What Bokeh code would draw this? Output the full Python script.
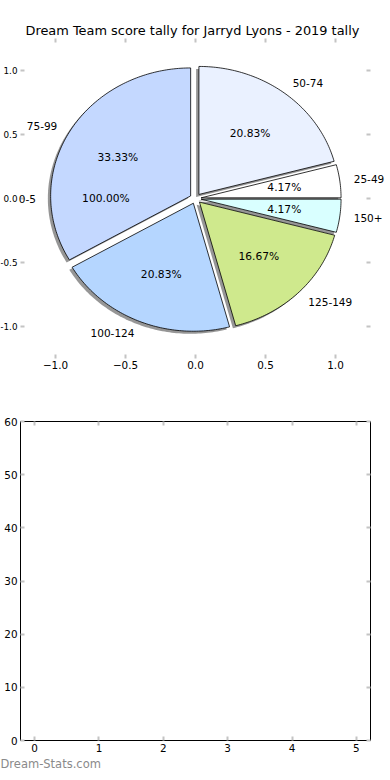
import numpy as np
from bokeh.plotting import figure
from bokeh.models import (ColumnDataSource, LabelSet, Range1d, FixedTicker,
                          LinearAxis, CustomJSTickFormatter, Title)
from bokeh.core.properties import value
from bokeh.layouts import column
from bokeh.embed import file_html
from bokeh.resources import INLINE

# ---------------- data ----------------
title_text = "Dream Team score tally for Jarryd Lyons - 2019 tally"
slice_labels = ["50-74", "25-49", "150+", "125-149", "100-124", "75-99"]
slice_counts = [5, 1, 1, 4, 5, 8]
slice_colors = ["#eaf1ff", "#ffffff", "#d9ffff", "#cfe98d", "#b5d6ff", "#c4d8ff"]
extra_labels = ["0-5"]
extra_counts = [1]
pie_ticks = [-1.0, -0.5, 0.0, 0.5, 1.0]
bar_xticks = [0, 1, 2, 3, 4, 5]
bar_yticks = [0, 10, 20, 30, 40, 50, 60]
watermark = "Dream-Stats.com"

# ---------------- style ----------------
FONT = "DejaVu Sans"
EXPLODE = 0.04
RADIUS = 1.0
SHADOW = (-0.02, -0.02)
TICK_COLOR = "#c4c4c4"
PX_X = 140.0      # pixels per unit (pie, horizontal)
AX_LIM = 1.25     # matplotlib-style axes limits of the pie panel
W = 390
H_TOP = 390
H_BOT = 390


def pie_parts(counts, startangle, counterclock):
    total = float(sum(counts))
    sign = 1.0 if counterclock else -1.0
    parts = []
    theta = startangle
    for c in counts:
        f = c / total
        t1 = theta + sign * 360.0 * f
        mid = np.radians((theta + t1) / 2.0)
        off = (EXPLODE * np.cos(mid), EXPLODE * np.sin(mid))
        parts.append(dict(t0=theta, t1=t1, frac=f, mid=mid, off=off))
        theta = t1
    return parts


def wedge_poly(t0, t1, off, shift=(0.0, 0.0)):
    n = int(abs(t1 - t0)) + 2
    th = np.radians(np.linspace(t0, t1, n))
    xs = np.concatenate([[0.0], RADIUS * np.cos(th), [0.0]]) + off[0] + shift[0]
    ys = np.concatenate([[0.0], RADIUS * np.sin(th), [0.0]]) + off[1] + shift[1]
    return list(xs), list(ys)


main = pie_parts(slice_counts, 90.0, False)
extra = pie_parts(extra_counts, 0.0, True)

wx, wy, sx, sy = [], [], [], []
for part in main:
    x, y = wedge_poly(part["t0"], part["t1"], part["off"])
    wx.append(x); wy.append(y)
    x, y = wedge_poly(part["t0"], part["t1"], part["off"], SHADOW)
    sx.append(x); sy.append(y)

lab_l = dict(x=[], y=[], t=[])
lab_r = dict(x=[], y=[], t=[])
pct = dict(x=[], y=[], t=[])
for part, name in list(zip(main, slice_labels)) + list(zip(extra, extra_labels)):
    lx = 1.1 * RADIUS * np.cos(part["mid"]) + part["off"][0]
    ly = 1.1 * RADIUS * np.sin(part["mid"]) + part["off"][1]
    d = lab_l if lx > 0 else lab_r
    d["x"].append(lx); d["y"].append(ly); d["t"].append(name)
    pct["x"].append(0.6 * RADIUS * np.cos(part["mid"]) + part["off"][0])
    pct["y"].append(0.6 * RADIUS * np.sin(part["mid"]) + part["off"][1])
    pct["t"].append("%.2f%%" % (part["frac"] * 100))


def fmt_tick(v):
    return "%.1f" % v


def style_axis(ax, show_labels, standoff=2):
    ax.axis_line_color = None
    ax.major_tick_line_color = TICK_COLOR
    ax.major_tick_line_width = 2
    ax.major_tick_in = 4
    ax.major_tick_out = 0
    ax.minor_tick_line_color = None
    ax.major_label_text_font = FONT
    ax.major_label_text_font_size = "10.4px"
    ax.major_label_text_color = "black"
    ax.major_label_standoff = standoff
    if not show_labels:
        ax.formatter = CustomJSTickFormatter(code="return '';")
        ax.major_label_standoff = 0


# ---------------- top figure (pie) ----------------
half_w = (W / 2.0) / PX_X
p = figure(width=W, height=H_TOP, output_backend="svg", toolbar_location=None,
           x_range=Range1d(-half_w, half_w), y_range=Range1d(-AX_LIM, AX_LIM),
           min_border_left=0, min_border_right=0, min_border_top=38, min_border_bottom=32,
           x_axis_location=None, y_axis_location=None)
p.outline_line_color = None
p.xgrid.visible = False
p.ygrid.visible = False
p.background_fill_color = "white"
p.border_fill_color = "white"

p.title.text = title_text
p.title.align = "left"
p.title.offset = 25
p.title.text_font = FONT
p.title.text_font_size = "12.9px"
p.title.text_font_style = "normal"
p.title.text_color = "black"
p.title.standoff = 2

p.patches(sx, sy, fill_color="#505050", fill_alpha=0.6, line_color=None)
p.patches(wx, wy, fill_color=slice_colors, line_color="black", line_width=0.8)

p.text(x=pct["x"], y=pct["y"], text=pct["t"], text_align="center", text_baseline="middle",
       text_font_size="10.7px", text_color="black", text_font=value(FONT))

for d, align in ((lab_l, "left"), (lab_r, "right")):
    src = ColumnDataSource(dict(x=d["x"], y=d["y"], t=d["t"]))
    p.add_layout(LabelSet(x="x", y="y", text="t", source=src, text_align=align,
                          text_baseline="middle", text_font_size="10.5px",
                          text_font=value(FONT), text_color="black"))

# pie panel's y tick labels and side ticks (the panel edge lies inside the canvas)
tick_len = 4.0 / PX_X
p.text(x=[-AX_LIM] * len(pie_ticks), y=pie_ticks, text=[fmt_tick(v) for v in pie_ticks],
       x_offset=-3, text_align="right", text_baseline="middle",
       text_font_size="8.8px", text_color="black", text_font=value(FONT))
p.segment(x0=[-AX_LIM] * len(pie_ticks), x1=[-AX_LIM + tick_len] * len(pie_ticks),
          y0=pie_ticks, y1=pie_ticks, line_color=TICK_COLOR, line_width=2)
p.segment(x0=[AX_LIM - tick_len] * len(pie_ticks), x1=[AX_LIM] * len(pie_ticks),
          y0=pie_ticks, y1=pie_ticks, line_color=TICK_COLOR, line_width=2)

ax = LinearAxis(ticker=FixedTicker(ticks=pie_ticks),
                formatter=CustomJSTickFormatter(code="return tick.toFixed(1).replace('-', '\u2212');"))
style_axis(ax, True, 2)
p.add_layout(ax, "below")
ax = LinearAxis(ticker=FixedTicker(ticks=pie_ticks))
style_axis(ax, False)
p.add_layout(ax, "above")

# ---------------- bottom figure (empty chart) ----------------
q = figure(width=W, height=H_BOT, output_backend="svg", toolbar_location=None,
           x_range=Range1d(-0.22, 5.22), y_range=Range1d(0, 60),
           min_border_left=20, min_border_right=20, min_border_top=31, min_border_bottom=40,
           x_axis_location=None, y_axis_location=None)
q.outline_line_color = "black"
q.outline_line_width = 1
q.xgrid.visible = False
q.ygrid.visible = False

for loc, ticks, show in (("below", bar_xticks, True), ("left", bar_yticks, True),
                         ("above", bar_xticks, False), ("right", bar_yticks, False)):
    ax = LinearAxis(ticker=FixedTicker(ticks=ticks))
    style_axis(ax, show, 3)
    q.add_layout(ax, loc)

wm = Title(text=watermark, align="left", offset=-20, standoff=0, text_font=FONT,
           text_font_size="11.5px", text_font_style="normal", text_color="#8a8a8a")
q.add_layout(wm, "below")

layout = column(column(p), column(q), spacing=0)
open("out.html", "w").write(file_html(layout, INLINE))
